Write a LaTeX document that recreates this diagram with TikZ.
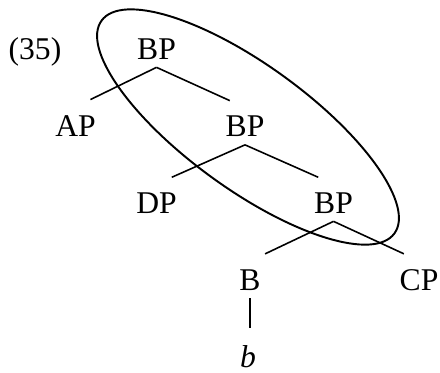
\documentclass[tikz,border=0pt]{standalone}
\usepackage{fontspec}
\setmainfont{Liberation Serif}

\begin{document}
\begin{tikzpicture}[font=\fontsize{18}{21}\selectfont,
    lbl/.style={anchor=base, inner sep=4.5pt},
    branch/.style={line width=0.9pt, shorten >=9.5pt},
    stem/.style={line width=0.9pt, shorten >=8.5pt}]
  \useasboundingbox (0,0) rectangle (8.8,-7.44);
  \node[lbl] (ex) at (0.70,-1.18) {(35)};
  % the tree
  \node[lbl] (bpa) at (3.13,-1.18) {BP};
  \node[lbl] (ap) at (1.51,-2.72) {AP};
  \node[lbl] (bpb) at (4.90,-2.73) {BP};
  \node[lbl] (dp) at (3.13,-4.26) {DP};
  \node[lbl] (bpc) at (6.67,-4.26) {BP};
  \node[lbl] (bhead) at (5.00,-5.80) {B};
  \node[lbl] (cp) at (8.38,-5.80) {CP};
  \node[lbl, inner sep=1pt] (blex) at (4.96,-7.34) {\itshape b};
  \draw[branch] (bpa.south) -- (ap.north);
  \draw[branch] (bpa.south) -- (bpb.north);
  \draw[branch] (bpb.south) -- (dp.north);
  \draw[branch] (bpb.south) -- (bpc.north);
  \draw[branch] (bpc.south) -- (bhead.north);
  \draw[branch] (bpc.south) -- (cp.north);
  \draw[stem] (bhead.south) -- (bhead.south |- blex.north);
  % the loop round the spine
  \coordinate (c) at (4.96,-2.54);
  \draw[line width=1.1pt, rotate around={-36:(c)}] (c) ellipse (3.62 and 1.24);
\end{tikzpicture}
\end{document}
